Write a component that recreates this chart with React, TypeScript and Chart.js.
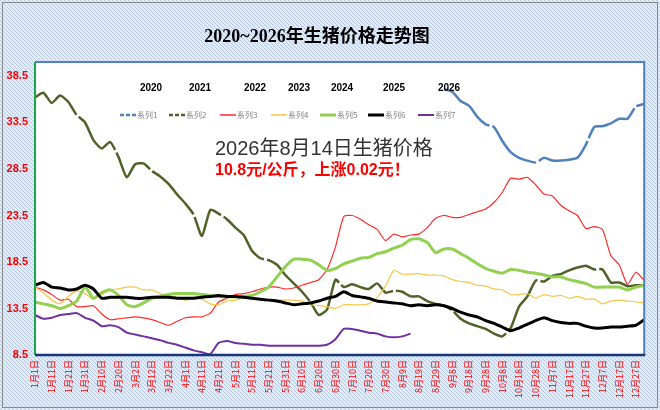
import React, { useRef, useEffect } from "react";
import { Chart, registerables } from "chart.js";

Chart.register(...registerables);

// every 5 days through the year, plus year end
const days = [
  "1月1日", "1月6日", "1月11日", "1月16日", "1月21日", "1月26日", "1月31日",
  "2月5日", "2月10日", "2月15日", "2月20日", "2月25日",
  "3月2日", "3月7日", "3月12日", "3月17日", "3月22日", "3月27日",
  "4月1日", "4月6日", "4月11日", "4月16日", "4月21日", "4月26日",
  "5月1日", "5月6日", "5月11日", "5月16日", "5月21日", "5月26日", "5月31日",
  "6月5日", "6月10日", "6月15日", "6月20日", "6月25日", "6月30日",
  "7月5日", "7月10日", "7月15日", "7月20日", "7月25日", "7月30日",
  "8月4日", "8月9日", "8月14日", "8月19日", "8月24日", "8月29日",
  "9月3日", "9月8日", "9月13日", "9月18日", "9月23日", "9月28日",
  "10月3日", "10月8日", "10月13日", "10月18日", "10月23日", "10月28日",
  "11月2日", "11月7日", "11月12日", "11月17日", "11月22日", "11月27日",
  "12月2日", "12月7日", "12月12日", "12月17日", "12月22日", "12月27日",
  "12月31日",
];

const yTicks = [8.5, 13.5, 18.5, 23.5, 28.5, 33.5, 38.5];
const years = ["2020", "2021", "2022", "2023", "2024", "2025", "2026"];
const seriesNames = ["系列1", "系列2", "系列3", "系列4", "系列5", "系列6", "系列7"];

// 2020 data in the chart only starts in September
const from2020 = 49;
const s2020 = [
  37.1, 36.8, 35.8, 35.3, 34.1, 33.3, 33.0, 31.5, 30.3, 29.7,
  29.4, 29.2, 29.7, 29.4, 29.4, 29.5, 29.7, 31.1, 33.0, 33.1,
  33.4, 33.9, 33.9, 35.2, 35.5,
];
const s2021 = [
  36.2, 36.7, 35.6, 36.4, 35.7, 34.3, 33.5, 31.6, 30.7, 31.4,
  29.8, 27.6, 29.0, 29.1, 28.3, 27.7, 26.9, 25.8, 24.8, 23.6,
  21.3, 24.1, 23.7, 23.1, 22.2, 21.4, 19.7, 18.9, 18.7, 18.2,
  17.1, 16.2, 15.3, 14.2, 12.8, 13.4, 16.6, 15.8, 16.1, 15.8,
  15.6, 16.2, 15.2, 15.4, 15.3, 14.8, 14.8, 14.3, 14.0, 13.8,
  13.3, 12.4, 11.9, 11.6, 11.3, 10.8, 10.5, 11.4, 13.7, 14.8,
  16.5, 16.4, 17.0, 17.2, 17.6, 17.9, 18.1, 17.7, 17.7, 16.3,
  16.3, 15.9, 16.0, 16.0,
];
const s2022 = [
  15.8, 15.5, 15.0, 14.4, 14.5, 13.7, 13.7, 13.8, 12.9, 12.3,
  12.4, 12.5, 12.6, 12.5, 12.3, 12.0, 11.7, 12.1, 12.5, 12.6,
  12.6, 13.0, 14.2, 14.6, 15.0, 15.1, 15.3, 15.6, 15.8, 15.8,
  15.6, 15.7, 16.0, 16.3, 16.6, 17.7, 20.1, 23.4, 23.5, 23.1,
  22.5, 22.0, 20.8, 21.5, 21.2, 21.4, 21.5, 22.2, 23.2, 23.5,
  23.3, 23.3, 23.6, 23.9, 24.2, 24.9, 26.0, 27.5, 27.4, 27.6,
  26.8, 25.8, 25.6, 24.6, 24.0, 23.5, 22.1, 22.3, 22.0, 19.2,
  18.2, 16.1, 17.4, 16.5,
];
const s2023 = [
  15.8, 15.2, 14.4, 14.0, 14.8, 15.4, 15.1, 14.5, 15.0, 15.5,
  15.6, 15.8, 15.8, 15.5, 15.5, 15.1, 14.9, 14.7, 14.4, 14.6,
  14.5, 14.0, 13.9, 14.3, 14.4, 14.7, 14.6, 14.5, 14.4, 14.4,
  14.4, 14.4, 14.3, 13.9, 13.8, 13.7, 13.5, 13.9, 13.9, 13.9,
  14.0, 14.7, 15.9, 17.6, 17.2, 17.2, 17.25, 17.1, 17.1, 17.0,
  16.6, 16.4, 16.3, 16.0, 15.9, 15.6, 15.5, 15.0, 15.0, 15.1,
  14.6, 15.0, 14.8, 14.9, 14.6, 14.8, 14.5, 14.5, 14.0, 14.3,
  14.4, 14.3, 14.2, 14.1,
];
const s2024 = [
  14.2, 14.0, 13.8, 13.5, 13.8, 14.3, 15.8, 14.6, 15.2, 15.5,
  14.9, 13.9, 13.7, 14.1, 14.6, 14.8, 15.0, 15.1, 15.1, 15.1,
  15.0, 14.9, 14.8, 14.75, 14.75, 14.8, 14.9, 15.3, 15.8, 16.9,
  18.0, 18.8, 18.8, 18.7, 18.2, 17.6, 17.8, 18.3, 18.6, 18.9,
  19.0, 19.4, 19.6, 20.0, 20.3, 20.9, 21.0, 20.6, 19.5, 19.9,
  19.9, 19.4, 18.9, 18.3, 17.8, 17.5, 17.3, 17.7, 17.6, 17.4,
  17.3, 17.1, 16.9, 16.9, 16.6, 16.4, 16.2, 15.8, 15.8, 15.8,
  15.8, 15.5, 15.8, 16.0,
];
const s2025 = [
  16.0, 16.3, 15.8, 15.7, 15.5, 15.6, 16.0, 15.6, 14.6, 14.7,
  14.7, 14.7, 14.6, 14.6, 14.7, 14.7, 14.7, 14.6, 14.6, 14.6,
  14.7, 14.8, 14.9, 14.8, 14.8, 14.7, 14.6, 14.5, 14.4, 14.3,
  14.1, 13.9, 14.0, 14.1, 14.3, 14.6, 14.8, 15.3, 14.9, 14.75,
  14.6, 14.3, 14.2, 14.1, 14.0, 13.8, 13.9, 13.8, 13.9, 13.8,
  13.5, 13.1, 12.8, 12.6, 12.2, 11.9, 11.5, 11.1, 11.4, 11.8,
  12.2, 12.5, 12.2, 12.0, 11.9, 11.9, 11.6, 11.4, 11.4, 11.5,
  11.5, 11.6, 11.7, 12.3,
];
const s2026 = [
  12.8, 12.4, 12.5, 12.8, 12.9, 13.0, 12.5, 12.2, 11.6, 11.7,
  11.5, 10.9, 10.7, 10.5, 10.3, 10.1, 9.8, 9.6, 9.3, 9.0,
  8.8, 8.6, 9.8, 10.0, 9.8, 9.7, 9.6, 9.6, 9.5, 9.5,
  9.5, 9.5, 9.5, 9.5, 9.5, 9.6, 10.2, 11.3, 11.3, 11.1,
  10.9, 10.8, 10.5, 10.4, 10.5, 10.8,
];

const colors = ["#4f81bd", "#4f6228", "#ff2a2a", "#f9c646", "#92d050", "#000000", "#7030a0"];
const widths = [2.5, 2.5, 1.2, 1.2, 3, 3, 2];
const dashed = [true, true, false, false, false, false, false];

const title = "2020~2026年生猪价格走势图";
const note = "2026年8月14日生猪价格";
const noteRed = "10.8元/公斤，上涨0.02元！";

const yearX = [151, 200, 255, 299, 342, 394, 449];
const legendX = [120, 169, 220, 271, 320, 368, 418];

const CJK = "'Noto Sans CJK SC'";

const decor = {
  id: "decor",
  beforeDraw(chart: any) {
    const { ctx, chartArea: a, width, height } = chart;
    const tile = document.createElement("canvas");
    tile.width = 4;
    tile.height = 4;
    const t = tile.getContext("2d")!;
    t.fillStyle = "#e2eaf4";
    t.fillRect(0, 0, 4, 4);
    t.fillStyle = "#b9cbe2";
    for (let i = 0; i < 4; i++) t.fillRect(i, i, 1, 1);
    ctx.save();
    ctx.fillStyle = ctx.createPattern(tile, "repeat");
    ctx.fillRect(0, 0, width, height);
    ctx.strokeStyle = "#8a8a8a";
    ctx.lineWidth = 1;
    ctx.strokeRect(2.5, 2.5, width - 5, height - 5);
    ctx.fillStyle = "#ffffff";
    ctx.fillRect(a.left, a.top, a.right - a.left, a.bottom - a.top);
    ctx.restore();
  },
  afterDraw(chart: any) {
    const { ctx, chartArea: a } = chart;
    ctx.save();
    ctx.lineWidth = 2;
    ctx.strokeStyle = "#4f81bd";
    ctx.beginPath();
    ctx.moveTo(a.left, a.top);
    ctx.lineTo(a.right, a.top);
    ctx.lineTo(a.right, a.bottom);
    ctx.stroke();
    ctx.strokeStyle = "#1aa64a";
    ctx.beginPath();
    ctx.moveTo(a.left, a.top);
    ctx.lineTo(a.left, a.bottom);
    ctx.stroke();
    ctx.lineWidth = 2.5;
    ctx.strokeStyle = "#17377a";
    ctx.beginPath();
    ctx.moveTo(a.left, a.bottom);
    ctx.lineTo(a.right + 1, a.bottom);
    ctx.stroke();

    ctx.textBaseline = "middle";
    ctx.fillStyle = "#000";
    ctx.textAlign = "center";
    ctx.font = `bold 18px 'Liberation Serif', ${CJK}`;
    ctx.fillText(title, 317, 37);

    ctx.font = "bold 10px 'Liberation Sans'";
    years.forEach((y, i) => ctx.fillText(y, yearX[i], 88));

    ctx.textAlign = "left";
    ctx.font = `8px ${CJK}`;
    seriesNames.forEach((name, i) => {
      const x = legendX[i];
      ctx.strokeStyle = colors[i];
      ctx.lineWidth = Math.max(widths[i], 1.5);
      ctx.setLineDash(dashed[i] ? [4, 2] : []);
      ctx.beginPath();
      ctx.moveTo(x, 115);
      ctx.lineTo(x + 16, 115);
      ctx.stroke();
      ctx.setLineDash([]);
      ctx.fillStyle = "#7f7f7f";
      ctx.fillText(name, x + 17, 115);
    });

    ctx.fillStyle = "#333";
    ctx.font = `20px 'Liberation Sans', ${CJK}`;
    ctx.fillText(note, 215, 149);
    ctx.fillStyle = "#ff0000";
    ctx.font = `bold 16px 'Liberation Sans', ${CJK}`;
    ctx.fillText(noteRed, 215, 171);
    ctx.restore();
  },
};

const App = () => {
  const chartRef = useRef<HTMLCanvasElement>(null);
  const chartInstance = useRef<Chart | null>(null);

  useEffect(() => {
    document.body.style.margin = "0";
    if (chartRef.current) {
      const series = [
        [...new Array(from2020).fill(null), ...s2020],
        s2021,
        s2022,
        s2023,
        s2024,
        s2025,
        s2026,
      ];
      chartInstance.current = new Chart(chartRef.current, {
        type: "line",
        data: {
          labels: days,
          datasets: series.map((data, i) => ({
            label: seriesNames[i],
            data,
            borderColor: colors[i],
            backgroundColor: colors[i],
            borderWidth: widths[i],
            borderDash: dashed[i] ? [60, 3] : [],
            pointRadius: 0,
            tension: 0.2,
            order: 6 - i,
          })),
        },
        options: {
          responsive: false,
          animation: false,
          layout: { padding: { left: 0, top: 62, right: 10, bottom: 0 } },
          plugins: {
            legend: { display: false },
            tooltip: { enabled: false },
          },
          scales: {
            x: {
              type: "category",
              grid: { display: false, drawTicks: false },
              border: { display: false },
              afterFit: (s: any) => {
                s.height = 55;
              },
              ticks: {
                autoSkip: false,
                minRotation: 90,
                maxRotation: 90,
                padding: 5,
                color: "#ff0000",
                font: { size: 9, family: CJK },
                callback: (_v: any, i: number) => (i % 2 === 0 ? days[i] : ""),
              },
            },
            y: {
              min: 8.5,
              max: 40,
              grid: { display: false, drawTicks: false },
              border: { display: false },
              afterBuildTicks: (s: any) => {
                s.ticks = yTicks.map((value) => ({ value }));
              },
              afterFit: (s: any) => {
                s.width = 35;
              },
              ticks: {
                padding: 7,
                color: "#ff0000",
                font: { size: 11, weight: "bold", family: "'Liberation Sans'" },
                callback: (v: any) => Number(v).toFixed(1),
              },
            },
          },
        },
        plugins: [decor],
      });
    }
    return () => {
      chartInstance.current?.destroy();
    };
  }, []);

  return (
    <div style={{ position: "absolute", left: 0, top: 0, width: 660, height: 410 }}>
      <canvas ref={chartRef} width={660} height={410} />
    </div>
  );
};

export default App;
